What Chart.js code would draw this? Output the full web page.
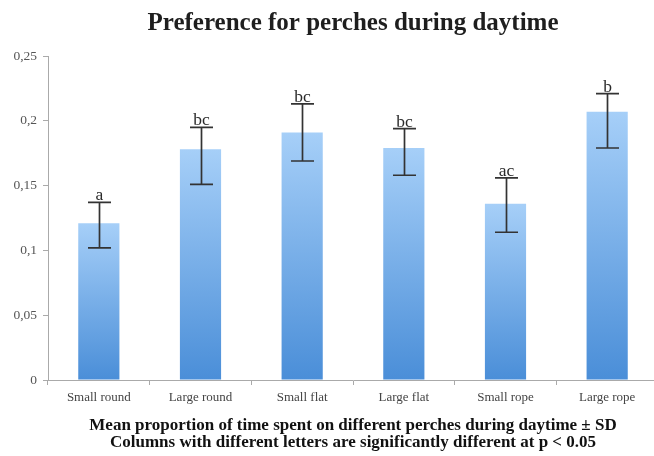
<!DOCTYPE html>
<html>
<head>
<meta charset="utf-8">
<script src="https://cdn.jsdelivr.net/npm/chart.js@4/dist/chart.umd.min.js"></script>
<style>
  html, body { margin: 0; padding: 0; background: #fff; overflow: hidden; }
  #wrap { width: 658px; height: 456px; }
</style>
</head>
<body>
<div id="wrap"><canvas id="c" width="658" height="456"></canvas></div>
<script>
// Perch types and mean daytime proportions
const categories = ['Small round', 'Large round', 'Small flat', 'Large flat', 'Small rope', 'Large rope'];
const means      = [0.121, 0.178, 0.191, 0.179, 0.136, 0.207];
// Lower and upper ends of the ± SD whiskers
const sdLow      = [0.102, 0.151, 0.169, 0.158, 0.114, 0.179];
const sdHigh     = [0.137, 0.195, 0.213, 0.194, 0.156, 0.221];
// Significance groups
const groups     = ['a', 'bc', 'bc', 'bc', 'ac', 'b'];
// Value axis labels (decimal comma)
const yTickLabels = ['0', '0,05', '0,1', '0,15', '0,2', '0,25'];

const SERIF = '"Liberation Serif", "Times New Roman", Times, serif';

// Vertical light-to-dark blue fill for each column
function barFill(ctx) {
  const chart = ctx.chart;
  const y = chart.scales && chart.scales.y;
  if (!chart.chartArea || !y || ctx.dataIndex === undefined) return '#78aee8';
  const top = y.getPixelForValue(means[ctx.dataIndex]);
  const bottom = y.getPixelForValue(0);
  const g = chart.ctx.createLinearGradient(0, top, 0, bottom);
  g.addColorStop(0, '#a6cff8');
  g.addColorStop(1, '#4a8ed8');
  return g;
}

// Whiskers with caps plus the group letters above them
const errorBars = {
  id: 'errorBars',
  afterDatasetsDraw(chart) {
    const ctx = chart.ctx;
    const y = chart.scales.y;
    const meta = chart.getDatasetMeta(0);
    ctx.save();
    ctx.strokeStyle = '#333';
    ctx.lineWidth = 1.7;
    ctx.fillStyle = '#2a2a2a';
    ctx.font = '17.5px ' + SERIF;
    ctx.textAlign = 'center';
    ctx.textBaseline = 'alphabetic';
    meta.data.forEach((bar, i) => {
      const x = Math.round(bar.x) + 0.5;
      const yl = y.getPixelForValue(sdLow[i]);
      const yh = y.getPixelForValue(sdHigh[i]);
      const half = 11.5;
      ctx.beginPath();
      ctx.moveTo(x, yl); ctx.lineTo(x, yh);
      ctx.moveTo(x - half, yl); ctx.lineTo(x + half, yl);
      ctx.moveTo(x - half, yh); ctx.lineTo(x + half, yh);
      ctx.stroke();
      ctx.fillText(groups[i], x, yh - 2);
    });
    ctx.restore();
  }
};

new Chart(document.getElementById('c'), {
  type: 'bar',
  data: {
    labels: categories,
    datasets: [{
      data: means,
      backgroundColor: barFill,
      borderWidth: 0,
      categoryPercentage: 1,
      barPercentage: 0.405
    }]
  },
  options: {
    responsive: false,
    animation: false,
    devicePixelRatio: 1,
    layout: { padding: 0 },
    plugins: {
      legend: { display: false },
      tooltip: { enabled: false },
      title: {
        display: true,
        fullSize: false,
        text: 'Preference for perches during daytime',
        color: '#1e1e1e',
        font: { family: SERIF, size: 25, weight: 'bold', lineHeight: 1.2 },
        padding: { top: 9, bottom: 17 }
      },
      subtitle: {
        display: true,
        fullSize: false,
        position: 'bottom',
        text: ['Mean proportion of time spent on different perches during daytime \u00b1 SD',
               'Columns with different letters are significantly different at p < 0.05'],
        color: '#111',
        font: { family: SERIF, size: 17, weight: 'bold', lineHeight: 1.0 },
        padding: { top: 13.5, bottom: 4.5 }
      }
    },
    scales: {
      x: {
        grid: { drawOnChartArea: false, drawTicks: true, tickLength: 5, color: '#aaa', offset: true },
        border: { color: '#aaa', width: 1 },
        ticks: { color: '#444', font: { family: SERIF, size: 13 }, padding: 5, maxRotation: 0 },
        afterFit(s) { s.height = 24; }
      },
      y: {
        min: 0,
        max: 0.25,
        ticks: {
          stepSize: 0.05,
          color: '#555',
          font: { family: SERIF, size: 13.5 },
          padding: 6,
          callback: (v, i) => yTickLabels[i]
        },
        grid: { drawOnChartArea: false, drawTicks: true, tickLength: 5, color: '#aaa' },
        border: { color: '#aaa', width: 1 },
        afterFit(s) { s.width = 48; }
      }
    }
  },
  plugins: [errorBars]
});
</script>
</body>
</html>
